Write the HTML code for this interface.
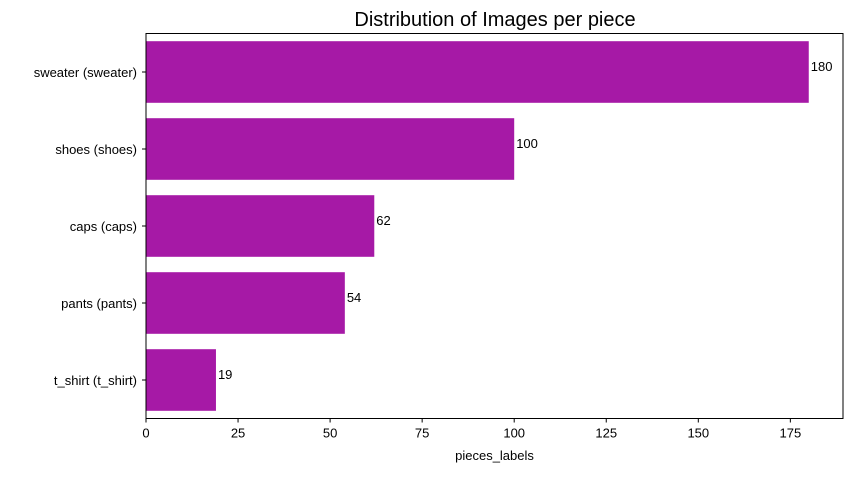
<!DOCTYPE html>
<html><head><meta charset="utf-8"><style>
body{margin:0;background:#fff;}
svg text{font-family:"Liberation Sans","DejaVu Sans",sans-serif;}
</style></head><body>
<svg id="c" width="856" height="472">
<text x="495" y="26" font-size="20" text-anchor="middle">Distribution of Images per piece</text>
<g id="g"></g>
</svg>
<script>
const categories=["sweater (sweater)","shoes (shoes)","caps (caps)","pants (pants)","t_shirt (t_shirt)"];
const values=[180,100,62,54,19];
const ticks=[0,25,50,75,100,125,150,175];
const L=146,R=843,T=33.5,B=418.5,XMAX=189.3;
const NS="http://www.w3.org/2000/svg";
const g=document.getElementById('g');
const x=v=>L+v/XMAX*(R-L);
const band=(B-T)/categories.length;
const y=i=>T+band*i;
function mk(t,a){const e=document.createElementNS(NS,t);for(const k in a)e.setAttribute(k,a[k]);g.appendChild(e);return e;}
categories.forEach((c,i)=>{
 const r=mk('rect',{x:x(0),y:y(i)+band*0.1,width:x(values[i])-x(0),height:band*0.8,fill:'#a619a6'});
 
 
 const v=mk('text',{x:x(values[i])+2,y:y(i)+band/2-1,'font-size':13});
 v.textContent=values[i];
 
 
 mk('line',{x1:L-4,x2:L,y1:y(i)+band/2,y2:y(i)+band/2,stroke:'#000'});
 const l=mk('text',{x:L-9,y:y(i)+band/2+5,'font-size':13,'text-anchor':'end'});
 l.textContent=c;
 
 
});
ticks.forEach(t=>{
 mk('line',{x1:x(t),x2:x(t),y1:B,y2:B+4,stroke:'#000'});
 const l=mk('text',{x:x(t),y:B+19,'font-size':13,'text-anchor':'middle'});
 l.textContent=t;
 
 
});
const f=mk('rect',{x:L,y:T,width:R-L,height:B-T,fill:'none',stroke:'#000','stroke-width':1});


const xt=mk('text',{x:(L+R)/2,y:460,'font-size':13,'text-anchor':'middle'});
xt.textContent='pieces_labels';


</script>
</body></html>
